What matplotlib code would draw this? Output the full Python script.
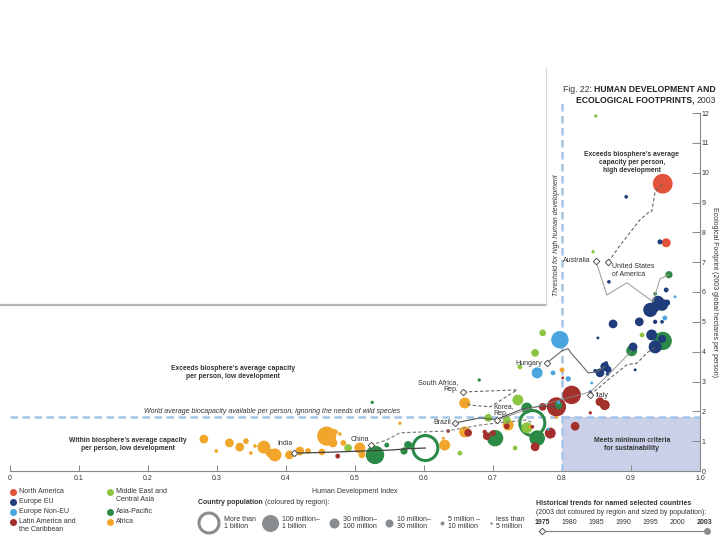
import matplotlib.pyplot as plt
import numpy as np

plt.rcParams['font.family'] = ['Liberation Sans', 'DejaVu Sans']
plt.rcParams['font.size'] = 5

# region colours
c_na = '#e2533b'
c_eu = '#1f3d7a'
c_neu = '#4ba6df'
c_la = '#a3302b'
c_me = '#8cc540'
c_ap = '#2c8a47'
c_af = '#f1a52a'

# 2003 countries: human development index, footprint (gha/person), population (millions)
na_hdi = [0.946, 0.951]
na_ef = [9.63, 7.65]
na_pop = [160, 32]

eu_hdi = [0.893, 0.942, 0.868, 0.951, 0.939, 0.945, 0.935, 0.928, 0.952, 0.912, 0.874, 0.935, 0.945,
          0.930, 0.945, 0.935, 0.903, 0.906, 0.852, 0.862, 0.855, 0.867, 0.848, 0.866, 0.864, 0.841]
eu_ef = [9.19, 7.68, 6.34, 6.07, 5.67, 5.57, 5.50, 5.40, 5.64, 5.00, 4.93, 5.00, 5.00,
         4.56, 4.43, 4.16, 4.16, 3.39, 4.46, 3.50, 3.29, 3.40, 3.36, 3.25, 3.62, 2.65]
eu_pop = [4, 9, 4, 8, 60, 58, 40, 82, 16, 30, 30, 6, 4,
          48, 25, 68, 30, 2, 2, 30, 30, 17, 4, 4, 4, 3]

neu_hdi = [0.797, 0.964, 0.949, 0.764, 0.787, 0.809, 0.843, 0.795, 0.780]
neu_ef = [4.40, 5.84, 5.13, 3.29, 3.29, 3.09, 2.95, 2.30, 1.40]
neu_pop = [125, 2, 8, 48, 8, 10, 2, 4, 2]

la_hdi = [0.475, 0.792, 0.814, 0.772, 0.855, 0.862, 0.841, 0.819, 0.783, 0.761, 0.801, 0.691,
          0.664, 0.635, 0.720, 0.700, 0.688, 0.757]
la_ef = [0.50, 2.15, 2.55, 2.15, 2.32, 2.21, 1.95, 1.50, 1.27, 0.81, 3.12, 1.17,
         1.28, 1.34, 1.50, 1.27, 1.31, 1.48]
la_pop = [8, 150, 140, 23, 30, 40, 3, 30, 48, 30, 2, 23, 23, 4, 12, 12, 6, 4]

me_hdi = [0.849, 0.845, 0.916, 0.490, 0.652, 0.693, 0.720, 0.736, 0.732, 0.739, 0.761, 0.772, 0.749]
me_ef = [11.9, 7.35, 4.56, 0.77, 0.60, 1.78, 1.71, 2.38, 0.77, 3.49, 3.96, 4.63, 1.45]
me_pop = [3, 3, 8, 23, 8, 23, 23, 48, 8, 8, 23, 17, 48]

ap_hdi = [0.946, 0.901, 0.955, 0.935, 0.529, 0.525, 0.546, 0.571, 0.577, 0.703, 0.764, 0.749,
          0.680, 0.795, 0.602, 0.757]
ap_ef = [4.36, 4.03, 6.58, 5.94, 0.54, 2.30, 0.87, 0.67, 0.87, 1.10, 1.10, 2.11,
         3.05, 2.20, 0.77, 1.61]
ap_pop = [137, 48, 20, 4, 140, 3, 8, 20, 25, 110, 100, 48, 3, 23, 1070, 1300]

af_hdi = [0.281, 0.299, 0.318, 0.333, 0.342, 0.349, 0.355, 0.368, 0.377, 0.384, 0.405, 0.420,
          0.432, 0.452, 0.459, 0.471, 0.478, 0.468, 0.483, 0.507, 0.510, 0.512, 0.565, 0.630,
          0.628, 0.659, 0.659, 0.722, 0.800, 0.754, 0.792]
af_ef = [1.07, 0.67, 0.94, 0.80, 1.00, 0.60, 0.84, 0.80, 0.60, 0.54, 0.54, 0.67,
         0.67, 0.64, 1.17, 1.31, 1.24, 0.94, 0.94, 0.77, 0.54, 0.60, 1.60, 0.87,
         1.10, 1.31, 2.28, 1.54, 3.39, 1.48, 1.80]
af_pop = [30, 4, 30, 30, 12, 4, 4, 68, 30, 68, 30, 30, 12, 17, 150, 12, 4, 30, 12, 48, 17, 4,
          3, 48, 2, 48, 48, 48, 8, 4, 2]

# historical trends 1975 -> 2003
india_hdi = [0.412, 0.45, 0.50, 0.55, 0.58, 0.602]
india_ef = [0.60, 0.62, 0.66, 0.70, 0.75, 0.77]
china_hdi = [0.523, 0.546, 0.565, 0.633, 0.681, 0.706, 0.749, 0.757]
china_ef = [0.87, 1.04, 1.28, 1.34, 1.54, 1.61, 1.71, 1.61]
brazil_hdi = [0.645, 0.681, 0.696, 0.706, 0.743, 0.772, 0.792]
brazil_ef = [1.61, 1.78, 1.74, 1.74, 2.08, 2.18, 2.15]
korea_hdi = [0.706, 0.754, 0.80, 0.841, 0.870, 0.901]
korea_ef = [1.71, 2.10, 2.40, 2.65, 3.29, 4.03]
safrica_hdi = [0.657, 0.735, 0.696, 0.667, 0.659]
safrica_ef = [2.65, 2.72, 2.15, 2.21, 2.28]
hungary_hdi = [0.778, 0.800, 0.809, 0.813, 0.838, 0.851, 0.862]
hungary_ef = [3.62, 4.03, 4.10, 3.96, 3.29, 3.32, 3.50]
italy_hdi = [0.841, 0.870, 0.894, 0.909, 0.923, 0.935]
italy_ef = [2.55, 3.12, 3.56, 3.62, 3.96, 4.16]
austr_hdi = [0.849, 0.865, 0.894, 0.932, 0.942, 0.955]
austr_ef = [7.05, 5.90, 6.31, 5.67, 6.44, 6.58]
usa_hdi = [0.867, 0.887, 0.913, 0.925, 0.930, 0.935, 0.946]
usa_ef = [7.01, 7.65, 8.42, 8.66, 8.69, 9.36, 9.63]

hdi_threshold = 0.8
world_biocap = 1.8

legend_years = [1975, 1980, 1985, 1990, 1995, 2000, 2003]

txt = '#333333'
fig = plt.figure(figsize=(7.2, 5.4), dpi=100)
ax = fig.add_axes([10/720, 69/540, 690/720, 358/540])
ax.set_xlim(0, 1.0)
ax.set_ylim(0, 12)

# sustainability box and thresholds
ax.add_patch(plt.Rectangle((hdi_threshold, 0), 1.0 - hdi_threshold, world_biocap,
                           color='#c9d0e8', lw=0, zorder=1))
ax.plot([0, 1.0], [world_biocap, world_biocap], color='#a6c3e8', lw=1.8,
        ls=(0, (3, 1.8)), zorder=2, clip_on=False)
ax.plot([hdi_threshold, hdi_threshold], [0, 12.35], color='#a6c3e8', lw=1.8,
        ls=(0, (3, 1.8)), zorder=2, clip_on=False)

# bubbles
regions = [(na_hdi, na_ef, na_pop, c_na), (eu_hdi, eu_ef, eu_pop, c_eu),
           (neu_hdi, neu_ef, neu_pop, c_neu), (la_hdi, la_ef, la_pop, c_la),
           (me_hdi, me_ef, me_pop, c_me), (ap_hdi, ap_ef, ap_pop, c_ap),
           (af_hdi, af_ef, af_pop, c_af)]
xs, ys, ps, cs = [], [], [], []
for h, e, p, c in regions:
    xs += h
    ys += e
    ps += p
    cs += [c] * len(h)
order = np.argsort(ps, kind='stable')[::-1]
xs = np.array(xs)[order]
ys = np.array(ys)[order]
ps = np.array(ps, dtype=float)[order]
cs = np.array(cs)[order]
big = ps > 1000
ax.scatter(xs[big], ys[big], s=(0.72*25)**2, facecolors='none', edgecolors=cs[big],
           linewidths=2.2, zorder=3)
ax.scatter(xs[~big], ys[~big], s=1.25*ps[~big] + 2, c=cs[~big], linewidths=0, zorder=3)

# trends
trends = [(india_hdi, india_ef, '-', '#444444', 0.9),
          (china_hdi, china_ef, '--', '#777777', 0.8),
          (brazil_hdi, brazil_ef, '-', '#555555', 0.8),
          (korea_hdi, korea_ef, '-', '#888888', 0.6),
          (safrica_hdi, safrica_ef, '--', '#666666', 0.8),
          (hungary_hdi, hungary_ef, '-', '#666666', 0.8),
          (italy_hdi, italy_ef, '--', '#666666', 0.8),
          (austr_hdi, austr_ef, '-', '#999999', 0.7),
          (usa_hdi, usa_ef, '--', '#666666', 0.8)]
for h, e, ls, col, lw in trends:
    if ls == '--':
        ax.plot(h, e, color=col, lw=lw, ls=(0, (3, 2)), zorder=4)
    else:
        ax.plot(h, e, color=col, lw=lw, zorder=4)
    ax.plot(h[0], e[0], marker='D', ms=3.3, mfc='white', mec='#555555', mew=0.7, zorder=5)

# country labels
ax.text(0.409, 0.80, 'India', ha='right', va='bottom', color=txt)
ax.text(0.521, 0.93, 'China', ha='right', va='bottom', color=txt)
ax.text(0.639, 1.61, 'Brazil', ha='right', va='center', color=txt)
ax.text(0.700, 1.80, 'Korea,\nRep.', ha='left', va='bottom', color=txt, linespacing=1.0)
ax.text(0.650, 2.62, 'South Africa,\nRep.', ha='right', va='bottom', color=txt,
        multialignment='right', linespacing=1.0)
ax.text(0.771, 3.62, 'Hungary', ha='right', va='center', color=txt)
ax.text(0.848, 2.53, 'Italy', ha='left', va='center', color=txt)
ax.text(0.842, 7.05, 'Australia', ha='right', va='center', color=txt)
ax.text(0.873, 6.72, 'United States\nof America', ha='left', va='center', color=txt,
        linespacing=1.05)

# zone annotations
ax.text(0.901, 10.34, 'Exceeds biosphere\u2019s average\ncapacity per person,\nhigh development',
        ha='center', va='center', fontweight='bold', color=txt, fontsize=4.9, linespacing=1.25)
ax.text(0.901, 0.90, 'Meets minimum criteria\nfor sustainability', ha='center', va='center',
        fontweight='bold', color=txt, fontsize=4.9, linespacing=1.25)
ax.text(0.323, 3.29, 'Exceeds biosphere\u2019s average capacity\nper person, low development',
        ha='center', va='center', fontweight='bold', color=txt, fontsize=4.9, linespacing=1.25)
ax.text(0.171, 0.90, 'Within biosphere\u2019s average capacity\nper person, low development',
        ha='center', va='center', fontweight='bold', color=txt, fontsize=4.9, linespacing=1.25)
ax.text(0.194, 1.98, 'World average biocapacity available per person, ignoring the needs of wild species',
        ha='left', va='center', style='italic', color=txt)
ax.text(0.792, 7.9, 'Threshold for high human development', rotation=90, ha='center', va='center',
        style='italic', color=txt)

# axes styling
for side in ['top', 'left']:
    ax.spines[side].set_visible(False)
for side in ['bottom', 'right']:
    ax.spines[side].set_color('#888888')
    ax.spines[side].set_linewidth(0.8)
ax.yaxis.tick_right()
ax.set_xticks(np.arange(0, 1.01, 0.1))
ax.set_xticklabels(['0'] + ['%.1f' % v for v in np.arange(0.1, 1.01, 0.1)])
ax.set_yticks(range(0, 13))
ax.tick_params(axis='x', direction='in', length=4, width=0.7, color='#888888',
               labelsize=5, pad=3, labelcolor=txt)
ax.tick_params(axis='y', direction='in', length=6, width=0.7, color='#888888',
               labelsize=5, pad=1.2, labelcolor=txt)
ax.set_xlabel('Human Development Index', fontsize=5, color=txt, labelpad=4)
ax.text(1.0 + 14.5/690, 0.5, 'Ecological Footprint (2003 global hectares per person)',
        transform=ax.transAxes, rotation=270, ha='center', va='center', fontsize=5, color=txt)
ax.patch.set_alpha(0)

# overlay in pixel units for legends, title and panel shadow
lg = fig.add_axes([0, 0, 1, 1])
lg.set_xlim(0, 720)
lg.set_ylim(540, 0)
lg.axis('off')

lg.plot([0, 546], [305, 305], color='#b5b5b5', lw=1.6)
lg.plot([546, 546], [68, 305], color='#d8d8d8', lw=0.8)

t1 = lg.text(716, 92, 'HUMAN DEVELOPMENT AND', ha='right', va='baseline', fontsize=6.2,
             fontweight='bold', color='#222222')
lg.annotate('Fig. 22: ', xy=(0, 0), xycoords=t1, ha='right', va='bottom', fontsize=6.2,
            color='#333333')
t2 = lg.text(716, 103, '2003', ha='right', va='baseline', fontsize=6.2, color='#333333')
lg.annotate('ECOLOGICAL FOOTPRINTS, ', xy=(0, 0), xycoords=t2, ha='right', va='bottom',
            fontsize=6.2, fontweight='bold', color='#222222')

# region legend
reg_names = ['North America', 'Europe EU', 'Europe Non-EU', 'Latin America and\nthe Caribbean',
             'Middle East and\nCentral Asia', 'Asia-Pacific', 'Africa']
reg_cols = [c_na, c_eu, c_neu, c_la, c_me, c_ap, c_af]
reg_pos = [(13, 492), (13, 502), (13, 512), (13, 522), (110, 492), (110, 512), (110, 522)]
for name, col, (px, py) in zip(reg_names, reg_cols, reg_pos):
    lg.scatter([px], [py], s=(0.72*7)**2, color=col, linewidths=0)
    lg.text(px + 6, py - 3.6, name, ha='left', va='top', color=txt, linespacing=1.2)

# population legend
pt = lg.text(198, 504, 'Country population', ha='left', va='baseline', fontweight='bold', color=txt)
lg.annotate(' (coloured by region):', xy=(1, 0), xycoords=pt, ha='left', va='bottom', color=txt)
pop_labels = ['More than\n1 billion', '100 million\u2013\n1 billion', '30 million\u2013\n100 million',
              '10 million\u2013\n30 million', '5 million \u2013\n10 million', 'less than\n5 million']
pop_diam = [23, 17, 10, 8, 4, 2.5]
pop_x = [209, 270, 334, 389, 442, 491]
for lab, d, px in zip(pop_labels, pop_diam, pop_x):
    if d > 20:
        lg.scatter([px], [523], s=(0.72*(d - 3))**2, facecolors='none', edgecolors='#8a8d8f',
                   linewidths=2.2)
    else:
        lg.scatter([px], [523], s=(0.72*d)**2, color='#8a8d8f', linewidths=0)
    lg.text(px + d/2 + 4, 523, lab, ha='left', va='center', color=txt, linespacing=1.05)

# historical trends legend
lg.text(536, 505, 'Historical trends for named selected countries', ha='left', va='baseline',
        fontweight='bold', color=txt)
lg.text(536, 514, '(2003 dot coloured by region and sized by population):', ha='left',
        va='baseline', color=txt)
yr_x = np.linspace(542, 705, len(legend_years))
for yr, px in zip(legend_years, yr_x):
    bold = yr in (legend_years[0], legend_years[-1])
    lg.text(px, 524, str(yr), ha='center', va='baseline', color=txt,
            fontweight='bold' if bold else 'normal')
lg.plot([yr_x[0], yr_x[-1] + 2], [531, 531], color='#888888', lw=0.9)
lg.plot([yr_x[0]], [531], marker='D', ms=3.3, mfc='white', mec='#555555', mew=0.7)
lg.scatter([yr_x[-1] + 2], [531], s=(0.72*7)**2, color='#8a8d8f', linewidths=0, zorder=3)

fig.savefig('out.png', dpi=100)
